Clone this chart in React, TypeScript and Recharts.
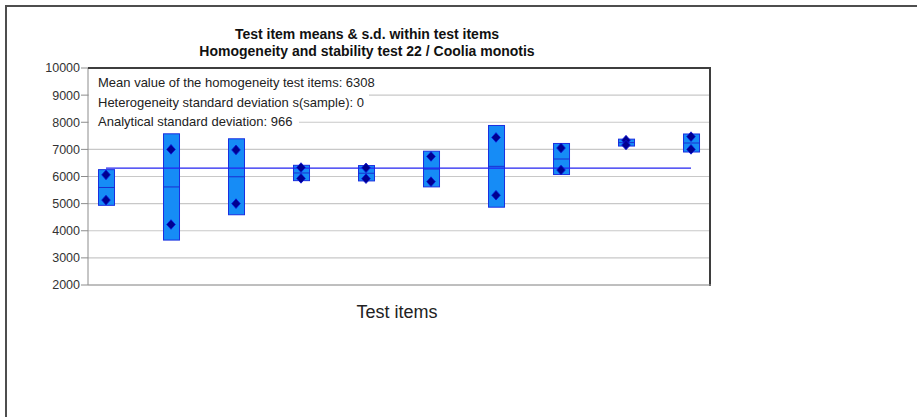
import { Bar, CartesianGrid, ComposedChart, Line, Scatter, XAxis, YAxis } from "recharts"

// two replicate measurements per test item
const items = [1, 2, 3, 4, 5, 6, 7, 8, 9, 10]
const replicateA = [6060, 7000, 6980, 6330, 6320, 6740, 7440, 7050, 7340, 7470]
const replicateB = [5130, 4230, 5000, 5930, 5920, 5810, 5310, 6240, 7160, 7000]

const yTicks = [2000, 3000, 4000, 5000, 6000, 7000, 8000, 9000, 10000]

const overallMean = 6308
const heterogeneitySd = 0
const analyticalSd = 966

const FONT = "'Liberation Sans', Arial, Helvetica, sans-serif"

// mean and s.d. of each item's replicates
const itemStats = items.map((item, i) => {
  const a = replicateA[i]
  const b = replicateB[i]
  const mean = (a + b) / 2
  const sd = Math.abs(a - b) / Math.SQRT2
  return { item, mean, sd, range: [mean - sd, mean + sd] }
})

const replicatePoints = items.flatMap((item, i) => [
  { item, value: replicateA[i] },
  { item, value: replicateB[i] },
])

const meanLine = [
  { item: items[0], value: overallMean },
  { item: items[items.length - 1], value: overallMean },
]

function SdBox(props: any) {
  const { x, y, width, height } = props
  if (x == null || y == null) return null
  return (
    <g>
      <rect x={x} y={y} width={width} height={height} fill="#168cf6" stroke="#1a2fe0" strokeWidth={1} />
      <line x1={x} x2={x + width} y1={y + height / 2} y2={y + height / 2} stroke="#1a2fd0" strokeWidth={1} />
    </g>
  )
}

function Diamond(props: any) {
  const { cx, cy } = props
  if (cx == null || cy == null) return null
  const w = 4.3
  const h = 4.8
  return (
    <path
      d={`M${cx},${cy - h}L${cx + w},${cy}L${cx},${cy + h}L${cx - w},${cy}Z`}
      fill="#00008f"
      stroke="#0a10d8"
      strokeWidth={0.8}
    />
  )
}

const infoLines = [
  { text: `Mean value of the homogeneity test items: ${overallMean}`, y: 86.5, w: 282 },
  { text: `Heterogeneity standard deviation s(sample): ${heterogeneitySd}`, y: 107, w: 280 },
  { text: `Analytical standard deviation: ${analyticalSd}`, y: 126, w: 210 },
]

export default function App() {
  return (
    <div style={{ position: "absolute", left: 0, top: 0, width: 917, height: 417, background: "#fff", fontFamily: FONT }}>
      <div
        style={{
          position: "absolute",
          left: 5,
          top: 5,
          width: 912,
          height: 412,
          boxSizing: "border-box",
          borderLeft: "2px solid #4e4e4e",
          borderTop: "2px solid #4e4e4e",
        }}
      />
      <div style={{ position: "absolute", left: 0, top: 0 }}>
        <ComposedChart
          width={917}
          height={417}
          data={itemStats}
          margin={{ top: 68, right: 207, bottom: 132, left: 28 }}
        >
          <CartesianGrid vertical={false} stroke="#c8c8c8" strokeWidth={1.2} />
          <XAxis type="number" dataKey="item" domain={[0.723, 10.292]} allowDataOverflow hide />
          <YAxis
            type="number"
            domain={[2000, 10000]}
            ticks={yTicks}
            allowDataOverflow
            width={60}
            tickSize={7}
            tickMargin={1}
            interval={0}
            axisLine={{ stroke: "#8c8c8c" }}
            tickLine={{ stroke: "#8c8c8c" }}
            tick={{ fill: "#333", fontSize: 12.5, fontFamily: FONT }}
          />
          <Bar dataKey="range" barSize={16} shape={SdBox} isAnimationActive={false} />
          <Line
            data={meanLine}
            dataKey="value"
            stroke="#2323f0"
            strokeWidth={1.3}
            dot={false}
            activeDot={false}
            isAnimationActive={false}
          />
          <Scatter data={replicatePoints} dataKey="value" shape={Diamond} isAnimationActive={false} />
        </ComposedChart>
      </div>
      <svg
        width={917}
        height={417}
        style={{ position: "absolute", left: 0, top: 0, pointerEvents: "none" }}
        fontFamily={FONT}
      >
        {/* plot frame */}
        <line x1={88} x2={711} y1={68} y2={68} stroke="#3e3e3e" strokeWidth={2} />
        <line x1={710} x2={710} y1={67} y2={286} stroke="#3e3e3e" strokeWidth={2} />
        <line x1={88} x2={711} y1={285} y2={285} stroke="#9a9a9a" strokeWidth={1} />

        <text x={367} y={39} textAnchor="middle" fontSize={14} fontWeight="bold" fill="#111">
          Test item means &amp; s.d. within test items
        </text>
        <text x={367} y={56} textAnchor="middle" fontSize={14} fontWeight="bold" fill="#111">
          Homogeneity and stability test 22 / Coolia monotis
        </text>

        {infoLines.map((l) => (
          <g key={l.text}>
            <rect x={89} y={l.y - 14} width={l.w} height={19} fill="#fff" />
            <text x={98} y={l.y} fontSize={13} fill="#222">
              {l.text}
            </text>
          </g>
        ))}

        <text x={397} y={318} textAnchor="middle" fontSize={18} fill="#222">
          Test items
        </text>
      </svg>
    </div>
  )
}
